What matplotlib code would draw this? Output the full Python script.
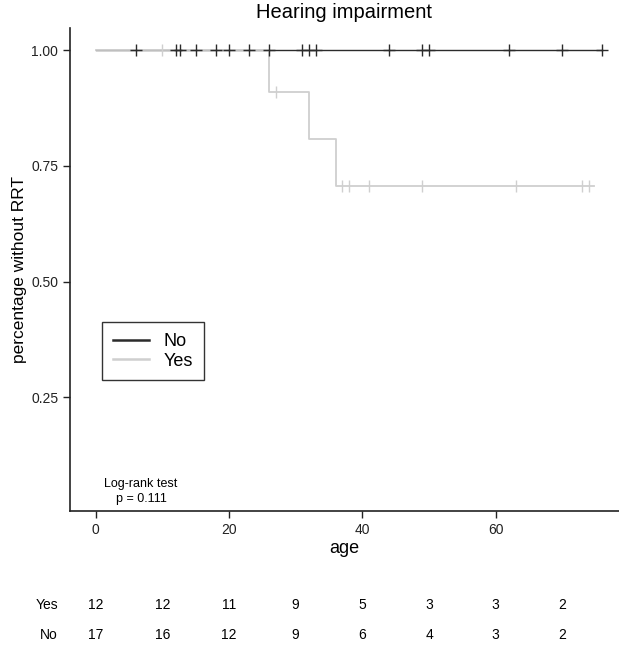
import numpy as np
import matplotlib
matplotlib.use("Agg")
import matplotlib.pyplot as plt
from matplotlib.transforms import blended_transform_factory

plt.rcParams['font.family'] = ['Liberation Sans', 'DejaVu Sans']

# Kaplan-Meier curves
no_times = [0, 76]
no_surv = [1.0, 1.0]
no_censor = [6, 12, 12.7, 15, 18, 20, 23, 26, 31, 32, 33, 44, 49, 50, 62, 70, 76]

yes_times = [0, 26, 32, 36, 74.8]
yes_surv = [1.0, 0.909, 0.808, 0.707, 0.707]
yes_censor = [10, 27, 37, 38, 41, 49, 63, 73, 74]

# numbers at risk
risk_times = [0, 10, 20, 30, 40, 50, 60, 70]
risk_yes = [12, 12, 11, 9, 5, 3, 3, 2]
risk_no = [17, 16, 12, 9, 6, 4, 3, 2]

black = '#2b2b2b'
grey = '#cfcfcf'

fig = plt.figure(figsize=(6.19, 6.48), dpi=100)
ax = fig.add_axes([70 / 619, 1 - 511 / 648, 549 / 619, 483 / 648])

def km_value(times, surv, t):
    idx = np.searchsorted(times, t, side='right') - 1
    return np.array(surv)[idx]

ax.step(no_times, no_surv, where='post', color=black, lw=1, zorder=1, label='No')
ax.step(yes_times, yes_surv, where='post', color=grey, lw=1.3, zorder=2, label='Yes')
ax.plot(yes_censor, km_value(yes_times, yes_surv, yes_censor), ls='none', marker='|',
        ms=8, mew=1, color=grey, zorder=3)
ax.plot(no_censor, km_value(no_times, no_surv, no_censor), ls='none', marker='+',
        ms=8, mew=1, color=black, zorder=4)

ax.set_xlim(-3.85, 78.5)
ax.set_ylim(0.004, 1.048)
ax.set_xticks([0, 20, 40, 60])
ax.set_yticks([0.25, 0.5, 0.75, 1.0])
ax.set_yticklabels(['0.25', '0.50', '0.75', '1.00'])
for s in ['top', 'right']:
    ax.spines[s].set_visible(False)
for s in ['left', 'bottom']:
    ax.spines[s].set_color('#222222')
    ax.spines[s].set_linewidth(1.2)
ax.tick_params(direction='out', length=5, width=1, colors='#222222', labelsize=10,
               labelcolor='#222222')

ax.set_title('Hearing impairment', fontsize=14.5, pad=7)
ax.set_xlabel('age', fontsize=13, labelpad=2)
ax.set_ylabel('percentage without RRT', fontsize=12.5, labelpad=3)

leg = ax.legend(loc='upper left', bbox_to_anchor=(32 / 549, 189 / 483), fontsize=13,
                frameon=True, fancybox=False, edgecolor='black', handlelength=2.0,
                handletextpad=0.8, borderpad=0.6, labelspacing=0.15, borderaxespad=0)
leg.get_frame().set_linewidth(1)
for line in leg.get_lines():
    line.set_linewidth(1.8)

ax.text(6.8, 0.018, 'Log-rank test\np = 0.111', ha='center', va='bottom', fontsize=9,
        linespacing=1.25)

tr = blended_transform_factory(ax.transData, fig.transFigure)
for t, y_, n_ in zip(risk_times, risk_yes, risk_no):
    ax.text(t, 1 - 605 / 648, str(y_), transform=tr, ha='center', va='center',
            fontsize=10, clip_on=False)
    ax.text(t, 1 - 635 / 648, str(n_), transform=tr, ha='center', va='center',
            fontsize=10, clip_on=False)
fig.text(58 / 619, 1 - 605 / 648, 'Yes', ha='right', va='center', fontsize=10)
fig.text(58 / 619, 1 - 635 / 648, 'No', ha='right', va='center', fontsize=10)

fig.savefig('out.png', dpi=100)
